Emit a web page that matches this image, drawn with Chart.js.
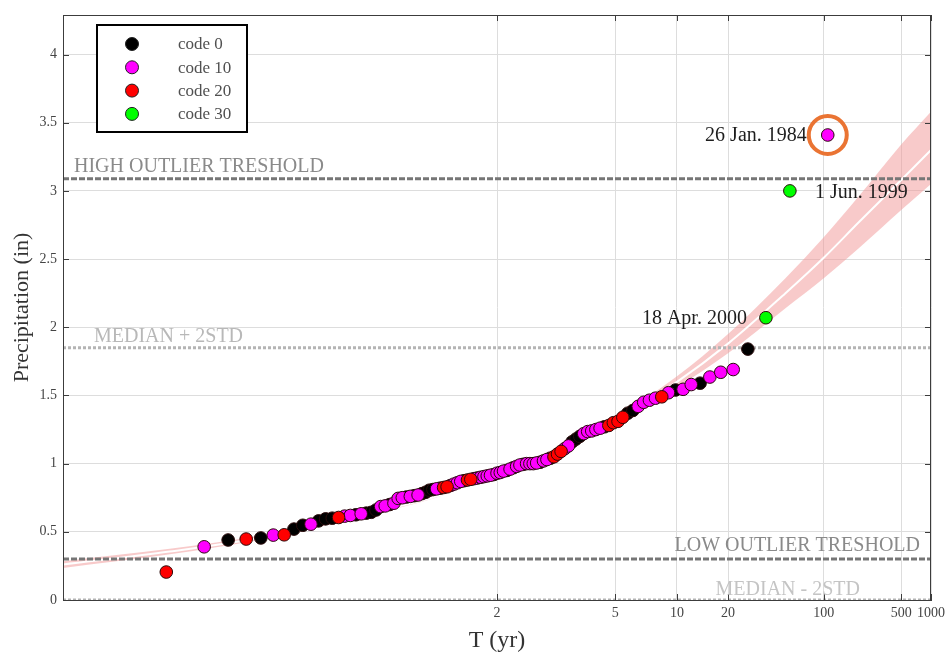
<!DOCTYPE html>
<html>
<head>
<meta charset="utf-8">
<script src="https://cdn.jsdelivr.net/npm/chart.js@4.4.1/dist/chart.umd.min.js"></script>
<style>
html, body { margin: 0; padding: 0; background: #fff; }
#wrap { width: 950px; height: 659px; }
</style>
</head>
<body>
<div id="wrap"><canvas id="freqChart"></canvas></div>
<script>
// annual maximum precipitation (in), sorted ascending, and the data code of each year
const precip = [
  0.205, 0.39, 0.44, 0.447, 0.455, 0.476, 0.478, 0.52, 0.548, 0.556,
  0.58, 0.595, 0.60, 0.605, 0.615, 0.62, 0.625, 0.632, 0.637, 0.643,
  0.66, 0.685, 0.69, 0.70, 0.71, 0.745, 0.75, 0.755, 0.76, 0.765,
  0.77, 0.78, 0.79, 0.805, 0.81, 0.815, 0.82, 0.825, 0.83, 0.84,
  0.85, 0.86, 0.87, 0.875, 0.88, 0.885, 0.89, 0.895, 0.90, 0.905,
  0.91, 0.915, 0.92, 0.93, 0.935, 0.945, 0.95, 0.96, 0.97, 0.98,
  0.99, 0.995, 1.00, 1.00, 1.00, 1.005, 1.01, 1.02, 1.03, 1.04,
  1.05, 1.07, 1.09, 1.11, 1.13, 1.16, 1.18, 1.20, 1.22, 1.235,
  1.24, 1.25, 1.26, 1.27, 1.28, 1.30, 1.31, 1.34, 1.37, 1.39,
  1.42, 1.45, 1.465, 1.48, 1.49, 1.52, 1.54, 1.545, 1.58, 1.59,
  1.635, 1.67, 1.69, 1.84, 2.07, 3.00, 3.41
];
const codes = [
  20, 10, 0, 20, 0, 10, 20, 0, 0, 10,
  0, 0, 0, 20, 10, 10, 0, 10, 0, 0,
  0, 10, 10, 0, 10, 10, 10, 0, 10, 0,
  10, 0, 0, 0, 0, 10, 0, 20, 20, 10,
  10, 10, 10, 0, 20, 20, 10, 0, 10, 10,
  10, 10, 0, 10, 10, 10, 0, 10, 0, 10,
  10, 0, 10, 10, 10, 10, 0, 10, 10, 0,
  20, 20, 20, 10, 10, 0, 0, 0, 10, 10,
  10, 10, 10, 0, 20, 20, 20, 20, 0, 0,
  10, 10, 10, 10, 20, 10, 0, 10, 10, 0,
  10, 10, 10, 0, 30, 30, 10
];
const codeValues = [0, 10, 20, 30];
const codeNames = ['code 0', 'code 10', 'code 20', 'code 30'];
const codeColors = ['#000000', '#ff00ff', '#ff0000', '#00ff00'];

// fitted frequency curve and its confidence band, read at these return periods
const fitT    = [1.001, 1.01, 1.05, 1.2, 1.5, 2, 3, 5, 10, 20, 50, 100, 200, 500, 1000];
const fitMid  = [0.26, 0.355, 0.46, 0.625, 0.76, 0.93, 1.11, 1.32, 1.60, 1.88, 2.25, 2.51, 2.77, 3.08, 3.30];
const fitLow  = [0.235, 0.335, 0.445, 0.613, 0.752, 0.922, 1.10, 1.30, 1.56, 1.81, 2.14, 2.36, 2.58, 2.86, 3.05];
const fitHigh = [0.285, 0.375, 0.477, 0.637, 0.768, 0.938, 1.12, 1.34, 1.64, 1.95, 2.36, 2.66, 2.96, 3.34, 3.58];

const tickT = [2, 5, 10, 20, 100, 500, 1000];
const tickLabels = ['2', '5', '10', '20', '100', '500', '1000'];

const thresholdNames = ['HIGH OUTLIER TRESHOLD', 'MEDIAN + 2STD', 'LOW OUTLIER TRESHOLD', 'MEDIAN - 2STD'];
const thresholdValues = [3.09, 1.85, 0.30, 0.0];

const eventLabels = ['26 Jan. 1984', '1 Jun. 1999', '18 Apr. 2000'];
const eventRanks = [107, 106, 105];

// inverse standard normal (Acklam) -> normal probability paper for the T axis
function normInv(p) {
  const a = [-39.69683028665376, 220.9460984245205, -275.9285104469687, 138.3577518672690, -30.66479806614716, 2.506628277459239];
  const b = [-54.47609879822406, 161.5858368580409, -155.6989798598866, 66.80131188771972, -13.28068155288572];
  const c = [-0.007784894002430293, -0.3223964580411365, -2.400758277161838, -2.549732539343734, 4.374664141464968, 2.938163982698783];
  const d = [0.007784695709041462, 0.3224671290700398, 2.445134137142996, 3.754408661907416];
  const pl = 0.02425;
  let q, r;
  if (p < pl) {
    q = Math.sqrt(-2 * Math.log(p));
    return (((((c[0]*q+c[1])*q+c[2])*q+c[3])*q+c[4])*q+c[5]) / ((((d[0]*q+d[1])*q+d[2])*q+d[3])*q+1);
  }
  if (p > 1 - pl) {
    q = Math.sqrt(-2 * Math.log(1 - p));
    return -(((((c[0]*q+c[1])*q+c[2])*q+c[3])*q+c[4])*q+c[5]) / ((((d[0]*q+d[1])*q+d[2])*q+d[3])*q+1);
  }
  q = p - 0.5; r = q * q;
  return (((((a[0]*r+a[1])*r+a[2])*r+a[3])*r+a[4])*r+a[5])*q / (((((b[0]*r+b[1])*r+b[2])*r+b[3])*r+b[4])*r+1);
}
const tToZ = T => normInv(1 - 1 / T);

const n = precip.length;
// Weibull plotting position of rank i
const rankZ = i => normInv(i / (n + 1));
const xMin = tToZ(1.001);
const xMax = tToZ(1000);

const serif = '"Liberation Serif", "DejaVu Serif", serif';

const datasets = [];
datasets.push({
  label: 'band low', data: fitT.map((T, k) => ({ x: tToZ(T), y: fitLow[k] })),
  showLine: true, borderWidth: 0, pointRadius: 0, cubicInterpolationMode: 'monotone', order: 20
});
datasets.push({
  label: 'band high', data: fitT.map((T, k) => ({ x: tToZ(T), y: fitHigh[k] })),
  showLine: true, borderWidth: 0, pointRadius: 0, cubicInterpolationMode: 'monotone',
  fill: '-1', backgroundColor: 'rgba(242,150,150,0.5)', order: 19
});
datasets.push({
  label: 'fit', data: fitT.map((T, k) => ({ x: tToZ(T), y: fitMid[k] })),
  showLine: true, borderColor: '#ffffff', borderWidth: 2, pointRadius: 0, cubicInterpolationMode: 'monotone', order: 18
});
thresholdValues.forEach((v, k) => {
  const strong = k === 0 || k === 2;
  datasets.push({
    label: thresholdNames[k], data: [{ x: xMin, y: v }, { x: xMax, y: v }],
    showLine: true, pointRadius: 0, borderWidth: 3,
    borderColor: strong ? '#767676' : '#b4b4b4',
    borderDash: strong ? [6, 2] : [3, 2], order: 15
  });
});
codeValues.forEach((cv, k) => {
  const pts = [];
  precip.forEach((v, i) => { if (codes[i] === cv) pts.push({ x: rankZ(i + 1), y: v }); });
  datasets.push({
    label: codeNames[k], data: pts, pointRadius: 6.3, pointHoverRadius: 6.3,
    backgroundColor: codeColors[k], borderColor: '#2a0a0a', borderWidth: 1, order: 10 - k
  });
});
// ring round the largest event
datasets.push({
  label: 'ring', data: [{ x: rankZ(eventRanks[0]), y: precip[eventRanks[0] - 1] }],
  pointRadius: 19, borderColor: '#ea7433', borderWidth: 4, backgroundColor: 'rgba(0,0,0,0)', order: 0
});

const decorPlugin = {
  id: 'decor',
  afterDatasetsDraw(chart) {
    const { ctx, chartArea: ca, scales: { x, y } } = chart;
    ctx.save();
    // frame and inward ticks
    ctx.strokeStyle = '#3c3c3c';
    ctx.lineWidth = 1;
    ctx.strokeRect(ca.left + 0.5, ca.top + 0.5, ca.right - ca.left - 1, ca.bottom - ca.top);
    ctx.beginPath();
    tickT.forEach(T => {
      const px = Math.round(x.getPixelForValue(tToZ(T))) + 0.5;
      ctx.moveTo(px, ca.bottom); ctx.lineTo(px, ca.bottom - 6);
      ctx.moveTo(px, ca.top); ctx.lineTo(px, ca.top + 6);
    });
    for (let v = 0; v <= 4; v += 0.5) {
      const py = Math.round(y.getPixelForValue(v)) + 0.5;
      ctx.moveTo(ca.left, py); ctx.lineTo(ca.left + 6, py);
      ctx.moveTo(ca.right, py); ctx.lineTo(ca.right - 6, py);
    }
    ctx.stroke();

    // threshold captions
    ctx.font = '20px ' + serif;
    ctx.textBaseline = 'alphabetic';
    ctx.fillStyle = '#8a8a8a';
    ctx.textAlign = 'left';
    ctx.fillText(thresholdNames[0], ca.left + 11, y.getPixelForValue(thresholdValues[0]) - 7);
    ctx.fillStyle = '#b8b8b8';
    ctx.fillText(thresholdNames[1], ca.left + 31, y.getPixelForValue(thresholdValues[1]) - 6);
    ctx.fillStyle = '#8a8a8a';
    ctx.textAlign = 'right';
    ctx.fillText(thresholdNames[2], ca.right - 11, y.getPixelForValue(thresholdValues[2]) - 8);
    ctx.fillStyle = '#c4c4c4';
    ctx.fillText(thresholdNames[3], ca.right - 71, y.getPixelForValue(thresholdValues[3]) - 5);

    // event captions
    ctx.fillStyle = '#1e1e1e';
    ctx.font = '20px ' + serif;
    ctx.textBaseline = 'middle';
    eventRanks.forEach((r, k) => {
      const px = x.getPixelForValue(rankZ(r));
      const py = y.getPixelForValue(precip[r - 1]);
      if (k === 1) { ctx.textAlign = 'left'; ctx.fillText(eventLabels[k], px + 25, py + 2); }
      else { ctx.textAlign = 'right'; ctx.fillText(eventLabels[k], px - (k === 0 ? 21 : 19), py + 1); }
    });

    // legend box
    ctx.fillStyle = '#ffffff';
    ctx.fillRect(97, 25, 150, 107);
    ctx.strokeStyle = '#000000';
    ctx.lineWidth = 2;
    ctx.strokeRect(97, 25, 150, 107);
    ctx.font = '17px ' + serif;
    ctx.textAlign = 'left';
    codeNames.forEach((name, k) => {
      const cy = 44 + k * 23.3;
      ctx.beginPath();
      ctx.arc(132, cy, 6.5, 0, Math.PI * 2);
      ctx.fillStyle = codeColors[k];
      ctx.fill();
      ctx.lineWidth = 1;
      ctx.strokeStyle = '#222';
      ctx.stroke();
      ctx.fillStyle = '#505050';
      ctx.fillText(name, 178, cy + 1);
    });
    ctx.restore();
  }
};

new Chart(document.getElementById('freqChart'), {
  type: 'scatter',
  data: { datasets },
  options: {
    responsive: true,
    maintainAspectRatio: false,
    animation: false,
    events: [],
    layout: { autoPadding: false, padding: { left: 0, top: 15, right: 17, bottom: 0 } },
    plugins: { legend: { display: false }, tooltip: { enabled: false } },
    scales: {
      x: {
        type: 'linear', min: xMin, max: xMax,
        afterBuildTicks: scale => { scale.ticks = tickT.map(T => ({ value: tToZ(T) })); },
        afterFit: scale => { scale.height = 59; },
        ticks: {
          autoSkip: false, maxRotation: 0, padding: 5, color: '#444',
          font: { family: serif, size: 14 },
          callback: (v, i) => tickLabels[i]
        },
        grid: { color: '#dddddd', drawTicks: false },
        border: { color: '#3c3c3c' },
        title: { display: true, text: 'T (yr)', color: '#333', font: { family: serif, size: 24 }, padding: { top: 0, bottom: 4 } }
      },
      y: {
        min: 0, max: 4.29,
        afterFit: scale => { scale.width = 63; },
        ticks: {
          stepSize: 0.5, includeBounds: false, padding: 6, color: '#444',
          font: { family: serif, size: 14 },
          callback: v => String(Math.round(v * 10) / 10)
        },
        grid: { color: '#dddddd', drawTicks: false },
        border: { color: '#3c3c3c' },
        title: { display: true, text: 'Precipitation (in)', color: '#333', font: { family: serif, size: 22 }, padding: { top: 9, bottom: 0 } }
      }
    }
  },
  plugins: [decorPlugin]
});
</script>
</body>
</html>
